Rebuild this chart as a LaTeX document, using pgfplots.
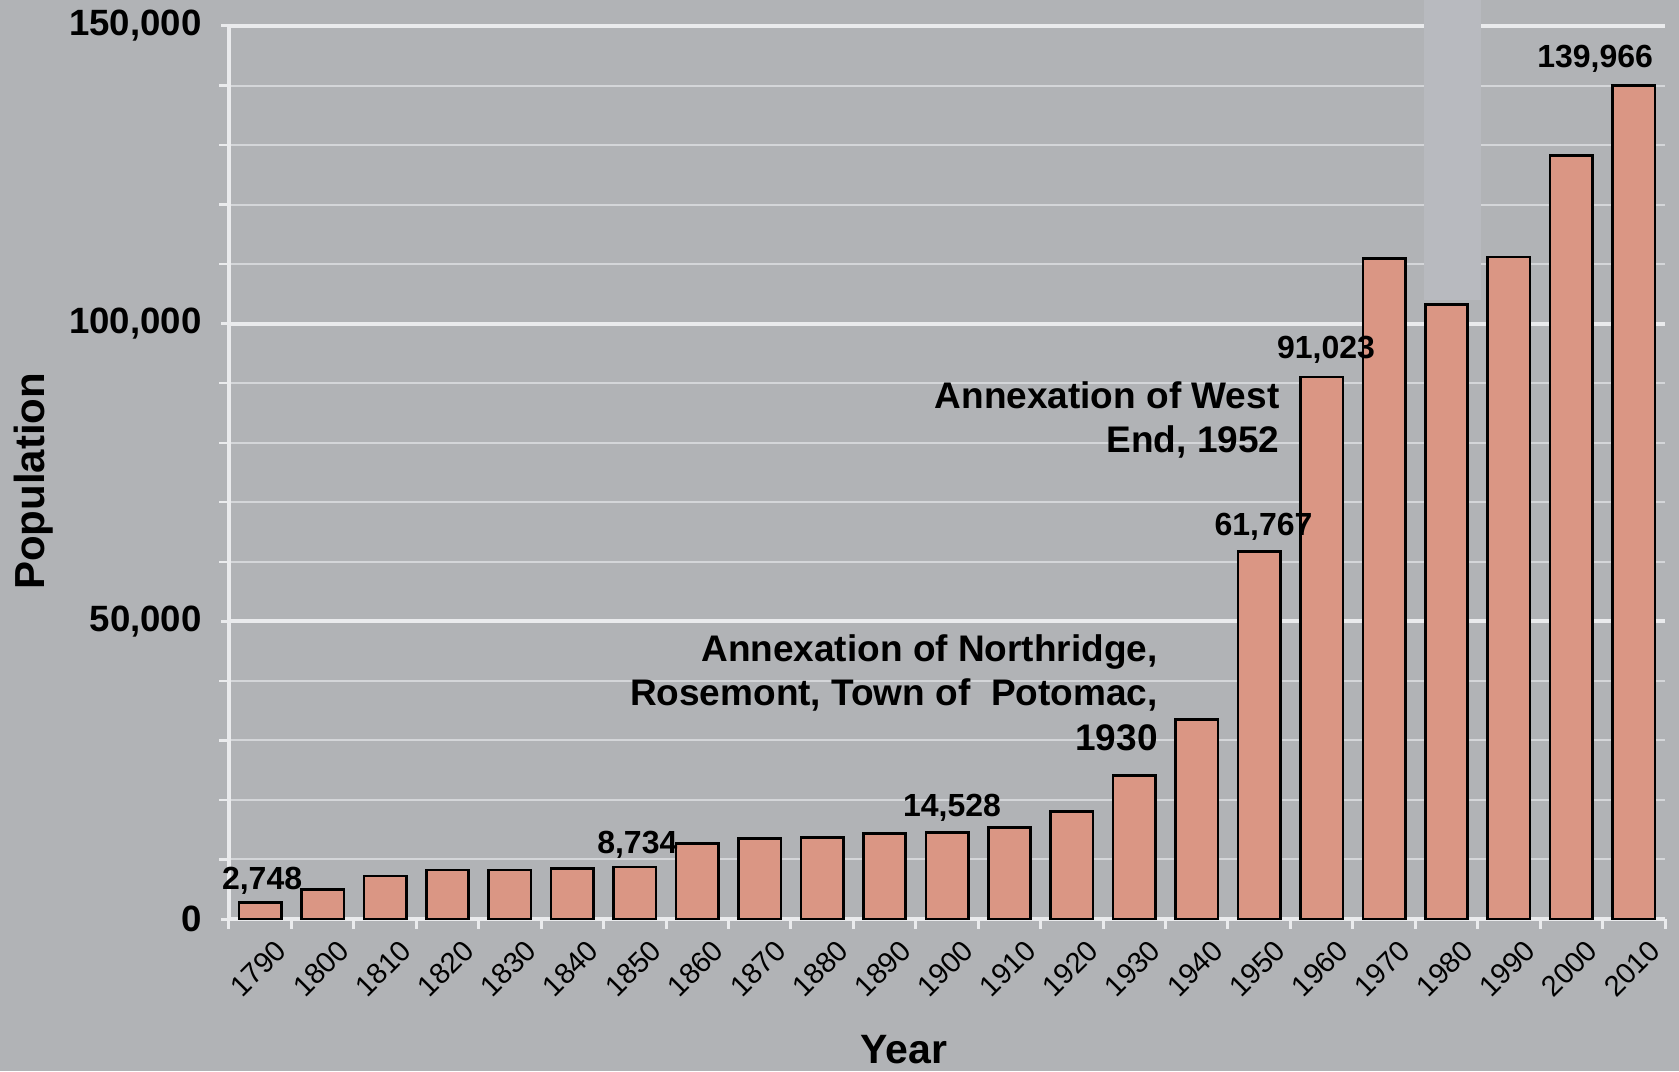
\documentclass[border=0pt]{standalone}
\usepackage{fontspec}
\setmainfont{Liberation Sans}
\usepackage{pgfplots}
\pgfplotsset{compat=1.18}
\definecolor{bg}{RGB}{177,179,182}
\definecolor{band}{RGB}{184,186,191}
\definecolor{gridc}{RGB}{212,214,217}
\definecolor{axisw}{RGB}{234,235,237}
\definecolor{barc}{RGB}{218,150,132}
\begin{document}
\begin{tikzpicture}
\fill[bg] (-114.5pt,-76pt) rectangle (725pt,459.5pt);
\begin{axis}[
  at={(0,0)}, anchor=south west,
  scale only axis, width=718pt, height=446.5pt,
  xmin=-0.5, xmax=22.5, ymin=0, ymax=150000,
  clip=false,
  ybar, bar width=21.2pt,
  axis x line=bottom, axis y line=left,
  axis line style={draw=axisw, line width=2pt, -},
  xtick={0,...,22},
  xticklabels={1790,1800,1810,1820,1830,1840,1850,1860,1870,1880,1890,1900,1910,1920,1930,1940,1950,1960,1970,1980,1990,2000,2010},
  minor xtick={-0.5,0.5,...,22.5},
  ytick={0,50000,100000,150000},
  yticklabels={0,{50,000},{100,000},{150,000}},
  minor ytick={10000,20000,30000,40000,60000,70000,80000,90000,110000,120000,130000,140000},
  ymajorgrids, yminorgrids,
  major grid style={draw=axisw, line width=2pt},
  minor grid style={draw=gridc, line width=1pt},
  tick align=outside,
  major tick length=4pt, minor tick length=5pt,
  major x tick style={draw=none},
  minor x tick style={draw=axisw, line width=1.5pt},
  major y tick style={draw=axisw, line width=1.5pt},
  minor y tick style={draw=axisw, line width=1.2pt},
  /pgf/number format/assume math mode=true,
  xticklabel style={rotate=45, anchor=east, inner sep=0pt, xshift=1pt, yshift=-14pt, font=\fontsize{14.5}{16}\selectfont},
  yticklabel style={anchor=east, inner sep=0pt, xshift=-9.5pt, font=\fontsize{18.3}{20}\selectfont\bfseries},
  xlabel={Year},
  xlabel style={at={(axis description cs:0.470,0)}, anchor=base, yshift=-72pt, inner sep=0pt, font=\fontsize{20.5}{23}\selectfont\bfseries},
  ylabel={Population},
  ylabel style={at={(axis description cs:-0.1357,0.49)}, anchor=center, inner sep=0pt, font=\fontsize{21}{23}\selectfont\bfseries},
]
\fill[band] (axis cs:18.64,104000) rectangle (axis cs:19.55,154300);
\addplot[fill=barc, draw=black, line width=1.3pt] coordinates {
(0,2748) (1,4971) (2,7227) (3,8218) (4,8241) (5,8459) (6,8734) (7,12652) (8,13570) (9,13659) (10,14339) (11,14528) (12,15329) (13,18060) (14,24149) (15,33523) (16,61767) (17,91023) (18,110938) (19,103217) (20,111183) (21,128283) (22,139966)};
\begin{scope}[every node/.style={anchor=base, inner sep=0pt, font=\fontsize{16}{18}\selectfont\bfseries}]
\node at (axis cs:0.03,5040) {2,748};
\node at (axis cs:6.04,11000) {8,734};
\node at (axis cs:11.08,17300) {14,528};
\node at (axis cs:16.07,64500) {61,767};
\node at (axis cs:17.07,94100) {91,023};
\node at (axis cs:21.38,143100) {139,966};
\end{scope}
\node[anchor=north east, align=right, inner sep=0pt, font=\fontsize{18.5}{22}\selectfont\bfseries] at (axis cs:16.33,90300) {Annexation of West\\End, 1952};
\node[anchor=north east, align=right, inner sep=0pt, font=\fontsize{18.5}{22.3}\selectfont\bfseries] at (axis cs:14.38,47900) {Annexation of Northridge,\\Rosemont, Town of~\ Potomac,\\1930};
\end{axis}
\pgfresetboundingbox
\useasboundingbox (-114.5pt,-76pt) rectangle (725pt,459.5pt);
\end{tikzpicture}
\end{document}
